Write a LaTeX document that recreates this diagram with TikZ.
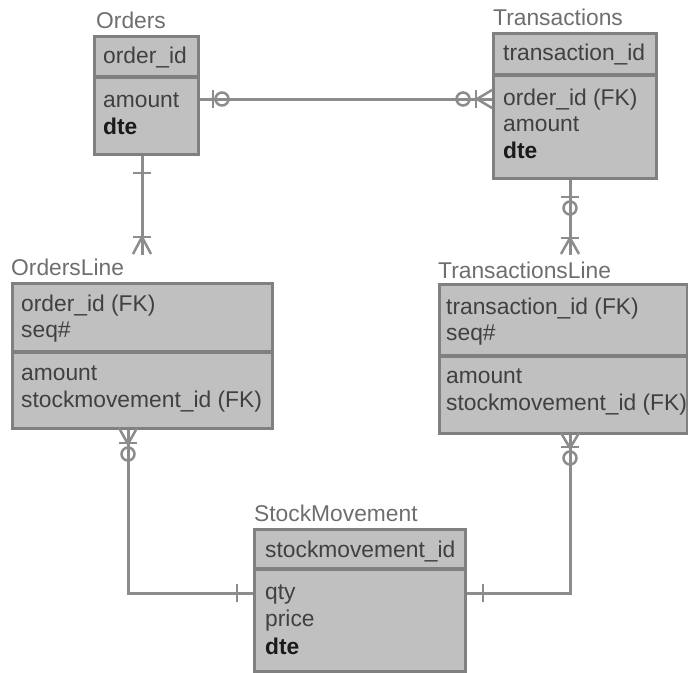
\documentclass[tikz,border=0pt]{standalone}
\usepackage{fontspec}
\setmainfont{Liberation Sans}
\definecolor{boxfill}{HTML}{C0C0C0}
\definecolor{boxedge}{HTML}{808080}
\definecolor{fieldtext}{HTML}{404040}
\definecolor{keytext}{HTML}{1A1A1A}
\definecolor{titletext}{HTML}{6E6E6E}
\definecolor{linkgray}{HTML}{8C8C8C}
\begin{document}
\begin{tikzpicture}[x=1pt,y=-1pt,
  entity/.style={draw=boxedge, fill=boxfill, line width=2.5pt, inner sep=0pt,
    anchor=north west},
  sepline/.style={draw=boxedge, line width=4pt},
  field/.style={anchor=base west, inner sep=0pt, text=fieldtext,
    font=\fontsize{22.8}{27}\selectfont},
  keyfield/.style={field, text=keytext, font=\fontsize{22.8}{27}\selectfont\bfseries},
  title/.style={anchor=base west, inner sep=0pt, text=titletext,
    font=\fontsize{22.8}{27}\selectfont},
  conn/.style={draw=linkgray, line width=3pt},
  endsym/.style={draw=linkgray, line width=2.5pt}]
\useasboundingbox (0,0) rectangle (688,672);

% ---- Orders ----
\node[title] (ordersT) at (96,28) {Orders};
\node[entity, minimum width=104pt, minimum height=118pt] (orders) at (93,35) {};
\draw[sepline] (93,77) -- (197,77);
\node[field] (o1) at (103,63) {order\_id};
\node[field] (o2) at (103,107) {amount};
\node[keyfield] (o3) at (103,134) {dte};

% ---- Transactions ----
\node[title] (transT) at (493,25) {Transactions};
\node[entity, minimum width=163pt, minimum height=145pt] (trans) at (492,32) {};
\draw[sepline] (492,75) -- (655,75);
\node[field] (t1) at (503,60) {transaction\_id};
\node[field] (t2) at (503,105) {order\_id (FK)};
\node[field] (t3) at (503,131) {amount};
\node[keyfield] (t4) at (503,158) {dte};

% ---- OrdersLine ----
\node[title] (olT) at (11,275) {OrdersLine};
\node[entity, minimum width=260pt, minimum height=145pt] (ol) at (11,282) {};
\draw[sepline] (11,352) -- (271,352);
\node[field] (ol1) at (21,311) {order\_id (FK)};
\node[field] (ol2) at (21,337) {seq\#};
\node[field] (ol3) at (21,380) {amount};
\node[field] (ol4) at (21,407) {stockmovement\_id (FK)};

% ---- TransactionsLine ----
\node[title] (tlT) at (438,278) {TransactionsLine};
\node[entity, minimum width=248pt, minimum height=149pt] (tl) at (438,283) {};
\draw[sepline] (438,356) -- (686,356);
\node[field] (tl1) at (446,314) {transaction\_id (FK)};
\node[field] (tl2) at (446,340) {seq\#};
\node[field] (tl3) at (446,383) {amount};
\node[field] (tl4) at (446,410) {stockmovement\_id (FK)};

% ---- StockMovement ----
\node[title] (smT) at (254,521) {StockMovement};
\node[entity, minimum width=211pt, minimum height=142pt] (sm) at (253,528) {};
\draw[sepline] (253,569) -- (464,569);
\node[field] (sm1) at (265,557) {stockmovement\_id};
\node[field] (sm2) at (265,599) {qty};
\node[field] (sm3) at (265,626) {price};
\node[keyfield] (sm4) at (265,654) {dte};

% ---- relationship routes ----
\coordinate (rowOT) at (0,99);
\coordinate (colO) at (142,0);
\coordinate (colT) at (570,0);
\coordinate (colOL) at (128,0);
\coordinate (rowSM) at (0,593);
\coordinate (olTop) at (142,255);
\coordinate (tlTop) at (570,255);

% Orders -- Transactions
\draw[conn] (orders.east |- rowOT) -- (trans.west |- rowOT);
\draw[endsym] (213,90) -- (213,108);
\draw[endsym] (222,99) circle (6.5);
\draw[endsym] (463,99) circle (6.5);
\draw[endsym] (476,90) -- (476,108);
\draw[endsym] (477,99) -- (492,90) (477,99) -- (492,108);

% Orders -- OrdersLine
\draw[conn] (orders.south -| colO) -- (olTop);
\draw[endsym] (133,173) -- (151,173);
\draw[endsym] (133,237) -- (151,237);
\draw[endsym] (142,237) -- (133,254) (142,237) -- (151,254);

% Transactions -- TransactionsLine
\draw[conn] (trans.south -| colT) -- (tlTop);
\draw[endsym] (561,197) -- (579,197);
\draw[endsym] (570,208) circle (6.5);
\draw[endsym] (561,238) -- (579,238);
\draw[endsym] (570,238) -- (561,254) (570,238) -- (579,254);

% OrdersLine -- StockMovement
\draw[conn] (ol.south -| colOL) -- (colOL |- rowSM) -- (sm.west |- rowSM);
\draw[endsym] (128,444) -- (119,428) (128,444) -- (137,428);
\draw[endsym] (119,443) -- (137,443);
\draw[endsym] (128,454) circle (6.5);
\draw[endsym] (237,584) -- (237,602);

% TransactionsLine -- StockMovement
\draw[conn] (tl.south -| colT) -- (colT |- rowSM) -- (sm.east |- rowSM);
\draw[endsym] (570,448) -- (561,433) (570,448) -- (579,433);
\draw[endsym] (561,447) -- (579,447);
\draw[endsym] (570,458) circle (6.5);
\draw[endsym] (483,584) -- (483,602);
\end{tikzpicture}
\end{document}
